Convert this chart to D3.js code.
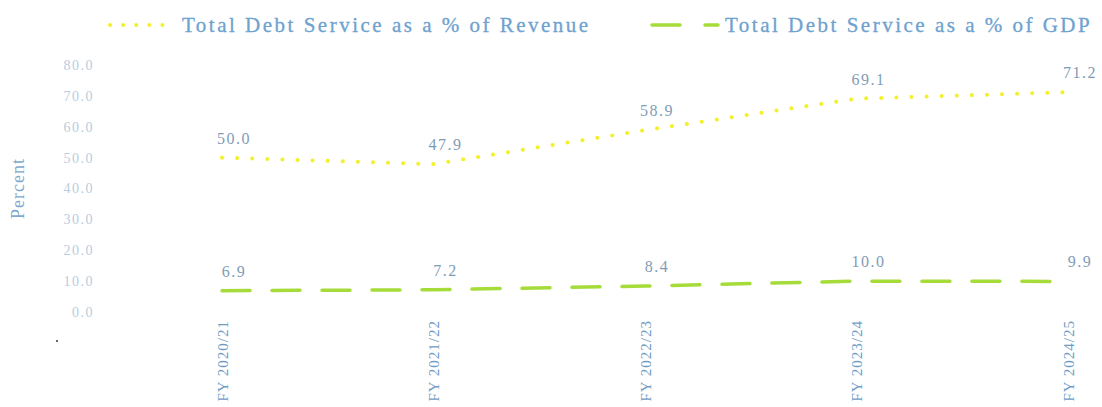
<!DOCTYPE html>
<html lang="en">
  <head>
    <meta charset="UTF-8" />
    <script src="https://d3js.org/d3.v7.min.js"></script>
    <style>
      body { margin: 0; background: #fff; }
      svg, svg text { font-family: "Liberation Serif", "DejaVu Serif", serif; }
      .ytick text { fill: #b7cde0; font-size: 14px; letter-spacing: 1.5px; font-family: "Liberation Serif", serif; }
      .xtick text { fill: #6f9cc4; font-size: 15px; letter-spacing: 1px; font-family: "Liberation Serif", serif; }
      .label { fill: #7f9cb6; font-size: 16px; letter-spacing: 1.5px; }
      .legendText { fill: #6ea2cf; font-size: 21px; letter-spacing: 2.5px; stroke: #6ea2cf; stroke-width: 0.3px; }
    </style>
    <title>Debt Service</title>
  </head>
  <body>
    <svg id="chart" width="1102" height="407"></svg>
    <script>
      // data
      const years = ["FY 2020/21", "FY 2021/22", "FY 2022/23", "FY 2023/24", "FY 2024/25"];
      const revenue = [50.0, 47.9, 58.9, 69.1, 71.2];
      const gdp = [6.9, 7.2, 8.4, 10.0, 9.9];
      const yTicks = [0, 10, 20, 30, 40, 50, 60, 70, 80];
      const seriesNames = ["Total Debt Service as a % of Revenue", "Total Debt Service as a % of GDP"];

      const svg = d3.select("#chart");
      const margin = { top: 65, right: 34, bottom: 95, left: 222 };
      const height = 407;
      const width = 1102;

      const x = d3.scalePoint().domain(years).range([margin.left, width - margin.right]);
      const y = d3.scaleLinear().domain([0, 80]).range([height - margin.bottom, margin.top]);

      // y axis (labels only)
      svg.append("g")
        .attr("class", "ytick")
        .attr("transform", "translate(97,0)")
        .call(d3.axisLeft(y).tickValues(yTicks).tickFormat(d3.format(".1f")).tickSize(0))
        .call(g => g.select(".domain").remove());

      svg.append("text")
        .attr("transform", "translate(24," + y(40) + ") rotate(-90)")
        .attr("text-anchor", "middle")
        .style("fill", "#7fa9cc")
        .style("font-size", "18px")
        .style("letter-spacing", "1px")
        .text("Percent");

      // x axis labels, rotated
      svg.append("g")
        .attr("class", "xtick")
        .attr("transform", "translate(0,320)")
        .call(d3.axisBottom(x).tickSize(0))
        .call(g => g.select(".domain").remove())
        .selectAll("text")
        .attr("transform", "rotate(-90)")
        .attr("x", 0)
        .attr("y", 0)
        .attr("dy", "0.35em")
        .style("text-anchor", "end");

      svg.append("circle").attr("cx", 57).attr("cy", 341).attr("r", 1).attr("fill", "#333");

      const colors = ["#f3f02e", "#a6dc3a"];
      const widths = [4, 3.5];
      const dashes = ["0.1 15", "28 22"];
      const all = [revenue, gdp];

      const line = d3.line().x((d, i) => x(years[i])).y(d => y(d));

      all.forEach((s, k) => {
        svg.append("path")
          .datum(s)
          .attr("d", line)
          .attr("fill", "none")
          .attr("stroke", colors[k])
          .attr("stroke-width", widths[k])
          .attr("stroke-dasharray", dashes[k])
          .attr("stroke-linecap", "round");

        svg.selectAll(".lab" + k)
          .data(s)
          .join("text")
          .attr("class", "label")
          .attr("x", (d, i) => x(years[i]) + 12)
          .attr("y", d => y(d) - 14)
          .attr("text-anchor", "middle")
          .text(d => d3.format(".1f")(d));
      });

      // legend
      const legendX = [110, 652];
      const legendLen = [65, 66];
      const legend = svg.append("g");
      seriesNames.forEach((name, k) => {
        legend.append("line")
          .attr("x1", legendX[k]).attr("x2", legendX[k] + legendLen[k])
          .attr("y1", 25).attr("y2", 25)
          .attr("stroke", colors[k])
          .attr("stroke-width", widths[k])
          .attr("stroke-dasharray", k === 0 ? "0.1 13" : "28 25")
          .attr("stroke-linecap", "round");
        legend.append("text")
          .attr("class", "legendText")
          .attr("x", legendX[k] + legendLen[k] + 7)
          .attr("y", 32)
          .text(name);
      });
    </script>
  </body>
</html>
